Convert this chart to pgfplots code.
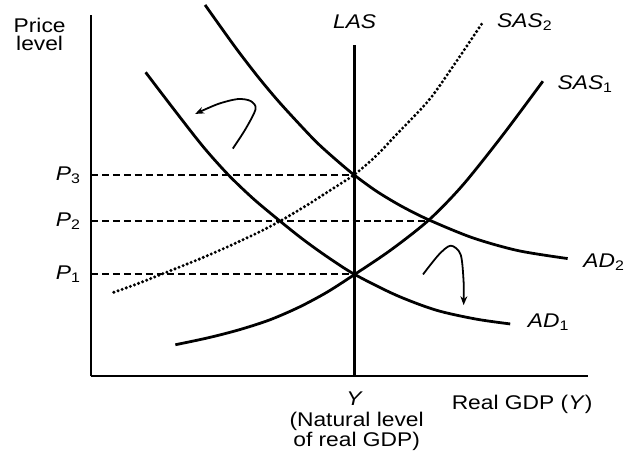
\documentclass[border=0pt]{standalone}
\usepackage{pgfplots}
\pgfplotsset{compat=1.18}
\usepackage{fontspec}
\setmainfont[FakeStretch=1.15]{Liberation Sans}
\usetikzlibrary{arrows.meta}
\begin{document}
\fontsize{20bp}{23bp}\selectfont
\begin{tikzpicture}
\begin{axis}[
  x=1bp, y=1bp,
  xmin=92, xmax=594, ymin=85, ymax=450,
  axis lines=left,
  axis line style={line width=2bp, -},
  ticks=none,
  clip=false,
]
% AD1
\addplot[black, line width=2.8bp, smooth] coordinates {
(147,392)(176,354)(205,317)(230,289)(255,265)(280,244)(305,224)(330,206)(358,188)(400,167)(440,152)(480,143)(515,138)};
% AD2
\addplot[black, line width=2.8bp, smooth] coordinates {
(207,460)(237,418)(260,388)(280,364)(300,342)(320,321)(340,303)(358,288)(380,272)(405,257)(433,243)(477,225)(523,212)(573,204)};
% SAS1
\addplot[black, line width=2.8bp, smooth] coordinates {
(177,117)(210,124)(241,132)(272,142)(302,155)(330,170)(358,188)(395,213)(433,243)(467,278)(507,328)(548,383)};
% SAS2 dotted
\addplot[black, line width=3.4bp, line cap=round, dash pattern=on 0bp off 4.4bp, smooth] coordinates {
(115,170)(140,179)(165,189)(200,203)(230,216)(260,230)(283,242)(310,258)(335,274)(358,289)(380,308)(400,329)(433,364)(460,402)(487,442)};
% LAS
\addplot[black, line width=2.6bp] coordinates {(358,85)(358,420)};
% dashed price lines
\addplot[black, line width=1.9bp, dash pattern=on 7bp off 4bp] coordinates {(92,288)(358,288)};
\addplot[black, line width=1.9bp, dash pattern=on 7bp off 4bp] coordinates {(92,242)(433,242)};
\addplot[black, line width=1.9bp, dash pattern=on 7bp off 4bp] coordinates {(92,188)(358,188)};
% curved arrows
\addplot[black, line width=1.8bp, smooth, -{Stealth[length=9bp,width=7bp]}] coordinates {
(235,315)(248,335)(258,355)(253,363)(240,365)(220,360)(197,350)};
\addplot[black, line width=1.8bp, smooth, -{Stealth[length=9bp,width=7bp]}] coordinates {
(427,188)(443,208)(455,217)(465,208)(468,180)(468,157)};
% labels
\node at (axis cs:40,428) {\begin{tabular}{@{}c@{}}Price\\[-5bp]level\end{tabular}};
\node[anchor=east] at (axis cs:88,288) {\textit{P}\textsubscript{3}};
\node[anchor=east] at (axis cs:88,242) {\textit{P}\textsubscript{2}};
\node[anchor=east] at (axis cs:88,188) {\textit{P}\textsubscript{1}};
\node at (axis cs:358,443) {\textit{LAS}};
\node[anchor=west] at (axis cs:495,443) {\textit{SAS}\textsubscript{2}};
\node[anchor=west] at (axis cs:556,380) {\textit{SAS}\textsubscript{1}};
\node[anchor=west] at (axis cs:582,200) {\textit{AD}\textsubscript{2}};
\node[anchor=west] at (axis cs:526,140) {\textit{AD}\textsubscript{1}};
\node[inner sep=0pt] at (axis cs:358,63) {\textit{Y}};
\node[inner sep=0pt, anchor=north] at (axis cs:360,51) {\begin{tabular}{@{}c@{}}(Natural level\\[-3bp]of real GDP)\end{tabular}};
\node at (axis cs:527,57) {Real GDP (\textit{Y})};
\path (axis cs:0,0) rectangle (axis cs:631,465);
\end{axis}
\end{tikzpicture}
\end{document}
